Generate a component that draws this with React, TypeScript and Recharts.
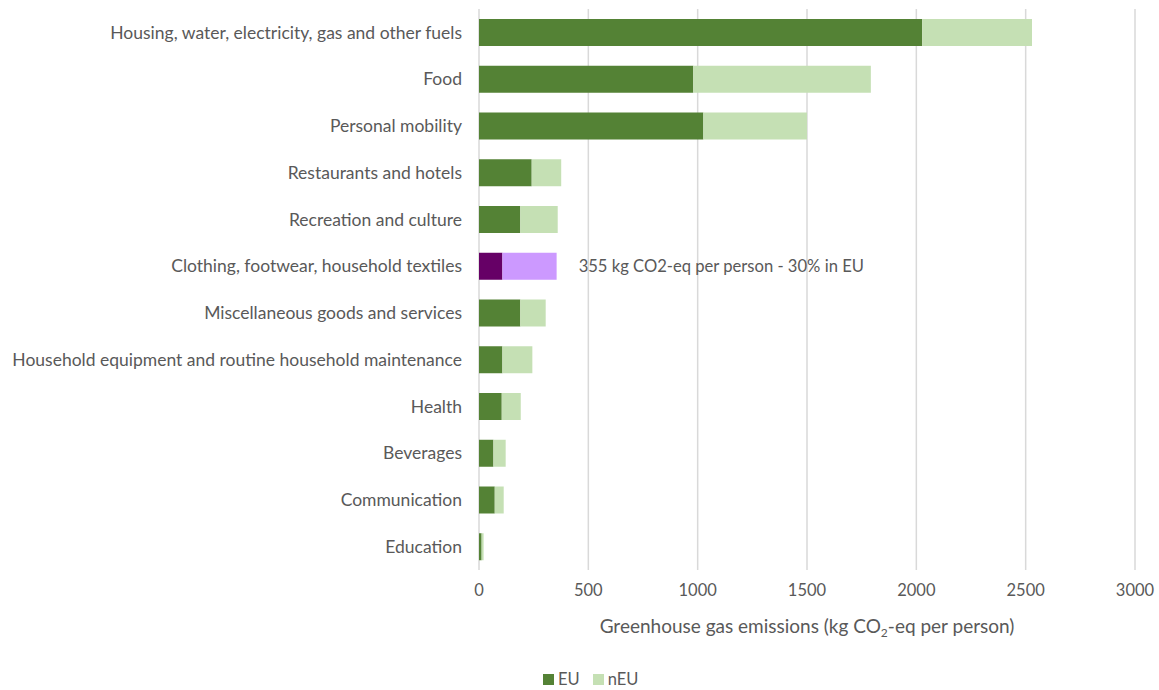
import { Bar, BarChart, CartesianGrid, Cell, LabelList, Legend, XAxis, YAxis } from "recharts"

const categories = [
  "Housing, water, electricity, gas and other fuels",
  "Food",
  "Personal mobility",
  "Restaurants and hotels",
  "Recreation and culture",
  "Clothing, footwear, household textiles",
  "Miscellaneous goods and services",
  "Household equipment and routine household maintenance",
  "Health",
  "Beverages",
  "Communication",
  "Education",
]
const euValues = [2027, 980, 1026, 241, 189, 107, 189, 107, 104, 66, 72, 12]
const nonEuValues = [502, 812, 474, 135, 171, 248, 116, 137, 87, 56, 41, 9]
const notes = ["", "", "", "", "", "355 kg CO2-eq per person - 30% in EU", "", "", "", "", "", ""]
const highlighted = "Clothing, footwear, household textiles"
const xTicks = [0, 500, 1000, 1500, 2000, 2500, 3000]

const FONT = "Lato, 'Open Sans', sans-serif"
const TEXT = "#595959"
const EU_GREEN = "#548235"
const NEU_GREEN = "#C5E0B4"
const EU_PURPLE = "#660066"
const NEU_PURPLE = "#CC99FF"

const data = categories.map((name, i) => ({
  name,
  eu: euValues[i],
  neu: nonEuValues[i],
  note: notes[i],
}))

// text to the right of the highlighted bar
function NoteLabel(props: any) {
  const { x, y, width, height, value } = props
  if (!value) return null
  return (
    <text x={x + width + 22} y={y + height / 2} dominantBaseline="central" fill={TEXT} fontSize={16.6} fontFamily={FONT}>
      {value}
    </text>
  )
}

function AxisTitle(props: any) {
  const { viewBox } = props
  const cx = viewBox.x + viewBox.width / 2
  return (
    <text x={cx} y={633} textAnchor="middle" fill={TEXT} fontSize={19} fontFamily={FONT}>
      Greenhouse gas emissions (kg CO
      <tspan fontSize={12} dy={4}>2</tspan>
      <tspan dy={-4}>-eq per person)</tspan>
    </text>
  )
}

function LegendBox() {
  const item = (color: string, label: string, gap: number) => (
    <span style={{ display: "inline-flex", alignItems: "center", marginRight: gap }}>
      <span style={{ width: 11, height: 11, background: color, display: "inline-block", marginRight: 4 }} />
      {label}
    </span>
  )
  return (
    <div style={{ fontFamily: FONT, fontSize: 16.5, color: TEXT, display: "flex" }}>
      {item(EU_GREEN, "EU", 13)}
      {item(NEU_GREEN, "nEU", 0)}
    </div>
  )
}

export default function App() {
  return (
    <div style={{ position: "absolute", left: 0, top: 0, width: 1159, height: 690, background: "#fff" }}>
      <BarChart
        width={1159}
        height={690}
        data={data}
        layout="vertical"
        margin={{ top: 9, right: 24, bottom: 70, left: 0 }}
        barSize={27}
      >
        <CartesianGrid horizontal={false} stroke="#D9D9D9" strokeWidth={1.5} />
        <XAxis
          type="number"
          domain={[0, 3000]}
          ticks={xTicks}
          axisLine={false}
          tickLine={false}
          tickMargin={8}
          height={30}
          tick={{ fill: TEXT, fontSize: 16.5, fontFamily: FONT }}
          label={<AxisTitle />}
        />
        <YAxis
          type="category"
          dataKey="name"
          width={479}
          axisLine={false}
          tickLine={false}
          tickMargin={11}
          interval={0}
          tick={{ fill: TEXT, fontSize: 17.5, fontFamily: FONT }}
        />
        <Legend content={<LegendBox />} wrapperStyle={{ left: 543, width: 110, top: 669 }} />
        <Bar dataKey="eu" name="EU" stackId="a" fill={EU_GREEN} isAnimationActive={false}>
          {data.map((d) => (
            <Cell key={d.name} fill={d.name === highlighted ? EU_PURPLE : EU_GREEN} />
          ))}
        </Bar>
        <Bar dataKey="neu" name="nEU" stackId="a" fill={NEU_GREEN} isAnimationActive={false}>
          {data.map((d) => (
            <Cell key={d.name} fill={d.name === highlighted ? NEU_PURPLE : NEU_GREEN} />
          ))}
          <LabelList dataKey="note" content={<NoteLabel />} />
        </Bar>
      </BarChart>
    </div>
  )
}
